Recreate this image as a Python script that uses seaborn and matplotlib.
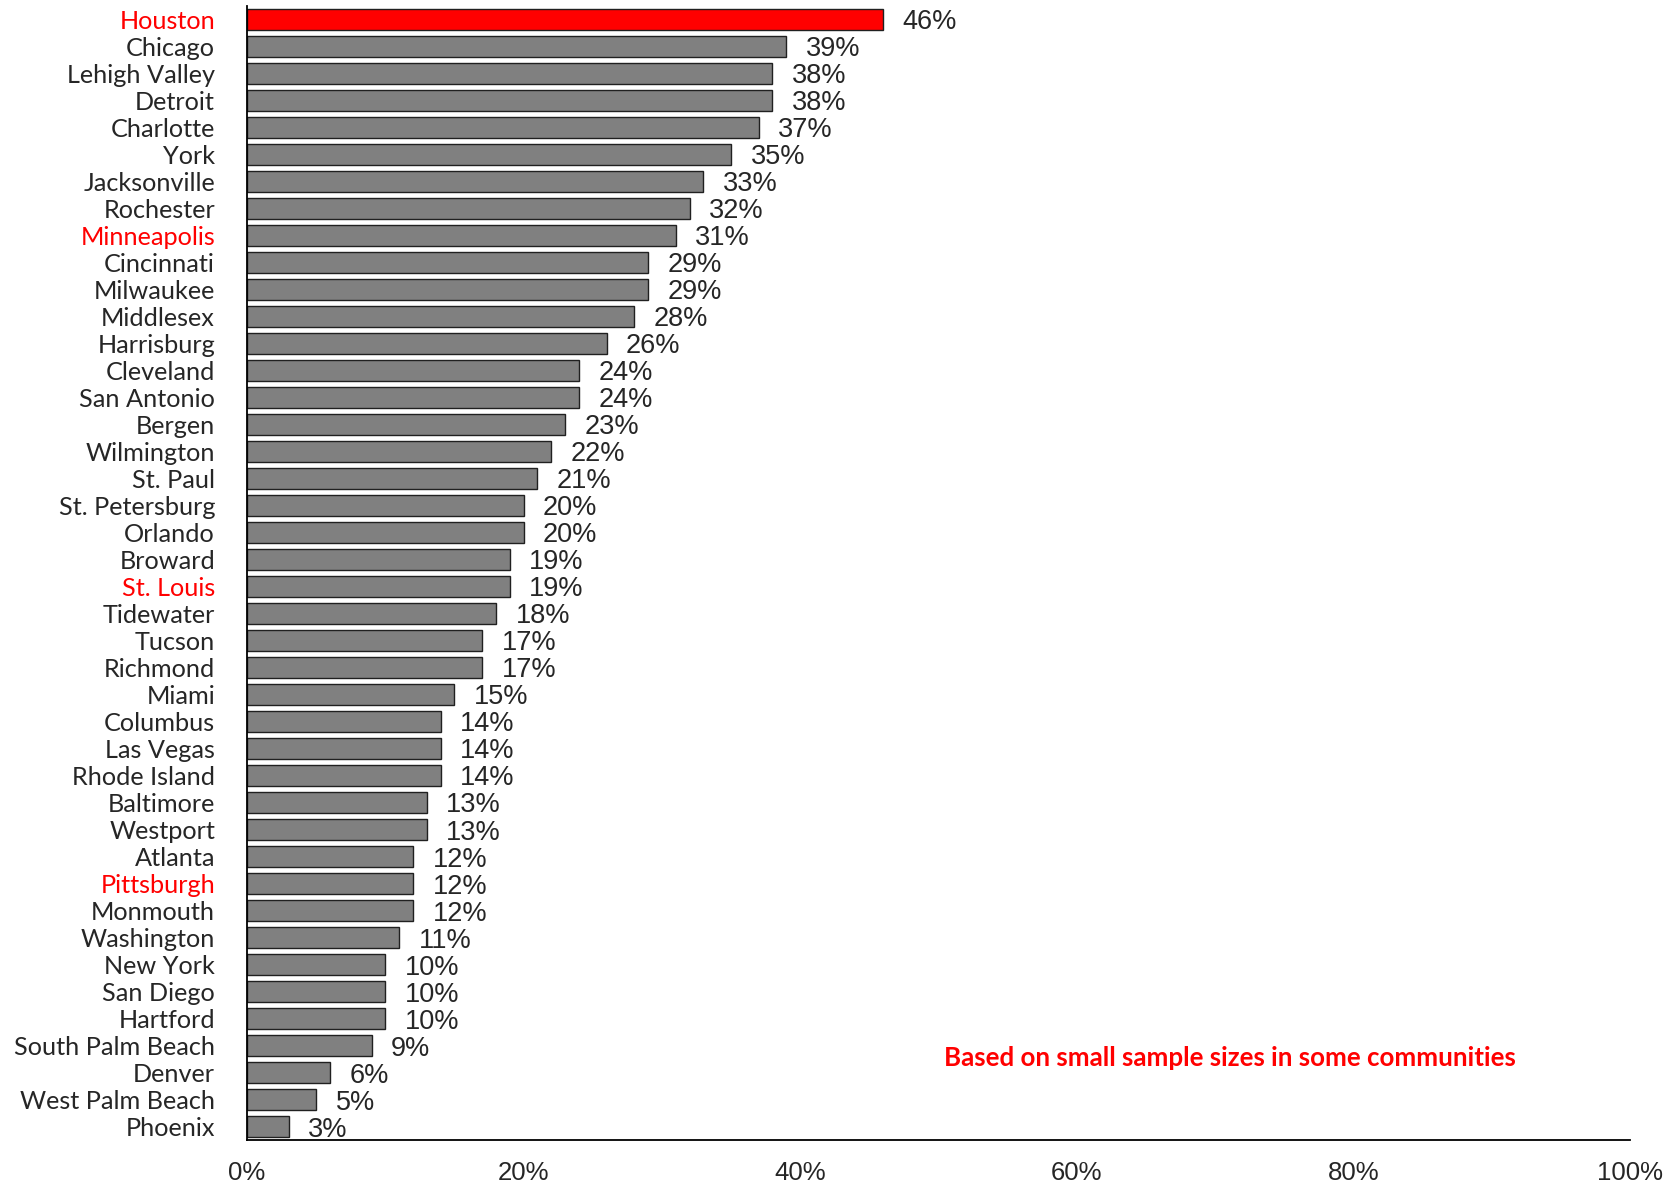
import pandas as pd
import matplotlib
matplotlib.use('Agg')
import matplotlib.pyplot as plt
import seaborn as sns

cities = ['Houston', 'Chicago', 'Lehigh Valley', 'Detroit', 'Charlotte', 'York',
          'Jacksonville', 'Rochester', 'Minneapolis', 'Cincinnati', 'Milwaukee',
          'Middlesex', 'Harrisburg', 'Cleveland', 'San Antonio', 'Bergen',
          'Wilmington', 'St. Paul', 'St. Petersburg', 'Orlando', 'Broward',
          'St. Louis', 'Tidewater', 'Tucson', 'Richmond', 'Miami', 'Columbus',
          'Las Vegas', 'Rhode Island', 'Baltimore', 'Westport', 'Atlanta',
          'Pittsburgh', 'Monmouth', 'Washington', 'New York', 'San Diego',
          'Hartford', 'South Palm Beach', 'Denver', 'West Palm Beach', 'Phoenix']
values = [46, 39, 38, 38, 37, 35, 33, 32, 31, 29, 29, 28, 26, 24, 24, 23, 22, 21,
          20, 20, 19, 19, 18, 17, 17, 15, 14, 14, 14, 13, 13, 12, 12, 12, 11, 10,
          10, 10, 9, 6, 5, 3]
highlight_labels = ['Houston', 'Minneapolis', 'St. Louis', 'Pittsburgh']
highlight_bars = ['Houston']
x_ticks = [0, 20, 40, 60, 80, 100]
note = 'Based on small sample sizes in some communities'

df = pd.DataFrame({'city': cities, 'value': values})
df['grp'] = ['hi' if c in highlight_bars else 'base' for c in cities]

sns.set_style('white')
plt.rcParams['font.family'] = ['Lato', 'DejaVu Sans']

fig = plt.figure(figsize=(16.75, 11.9), dpi=100)
ax = fig.add_axes([0.1475, 0.042, 0.8255, 0.953])

sns.barplot(data=df, x='value', y='city', hue='grp', orient='h',
            palette={'hi': '#FF0000', 'base': '#808080'}, legend=False,
            saturation=1, edgecolor='#202020', linewidth=1.0, width=0.78,
            dodge=False, ax=ax)

# value labels
for i, v in enumerate(values):
    ax.annotate(f'{v}%', (v, i), xytext=(14, 0), textcoords='offset points',
                va='center_baseline', ha='left', fontsize=19.5,
                family='Liberation Sans')

ax.set_xlim(0, 100)
ax.set_ylim(len(cities) - 0.5, -0.5)
ax.set_xticks(x_ticks)
ax.set_xticklabels([f'{t}%' for t in x_ticks], family='Liberation Sans', fontsize=18.5)
ax.tick_params(axis='x', length=0, pad=15)
ax.tick_params(axis='y', length=0, pad=23, labelsize=18.2)
for lab in ax.get_yticklabels():
    if lab.get_text() in highlight_labels:
        lab.set_color('#FF0000')
ax.set_xlabel('')
ax.set_ylabel('')

for s in ['top', 'right']:
    ax.spines[s].set_visible(False)
for s in ['left', 'bottom']:
    ax.spines[s].set_color('black')
    ax.spines[s].set_linewidth(1.3)

ax.text(50.4, 38.45, note, color='#FF0000', fontsize=18.6, fontweight='bold',
        ha='left', va='center')

fig.savefig('out.png', dpi=100)
